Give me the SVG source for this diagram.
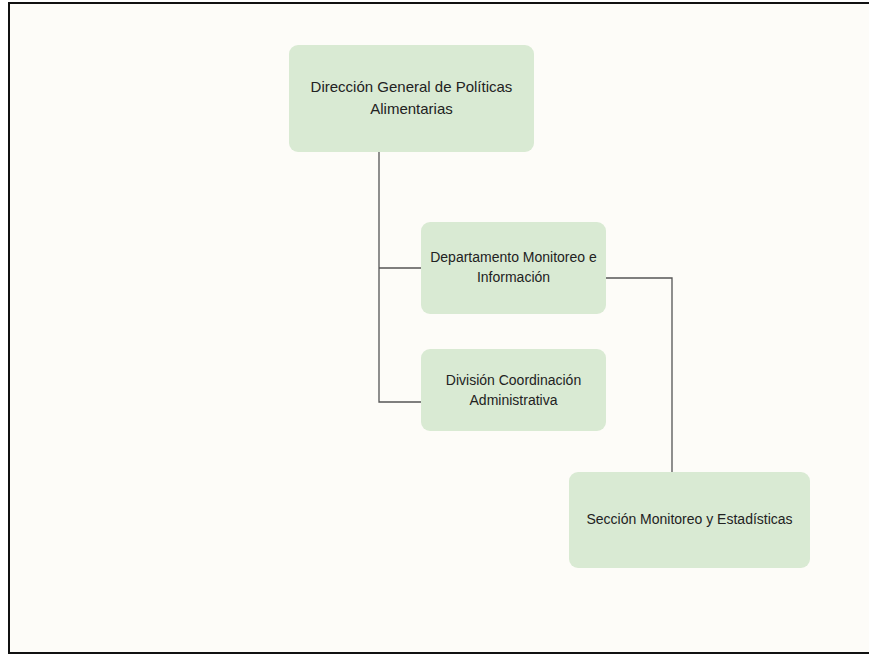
<svg xmlns="http://www.w3.org/2000/svg" width="869" height="655" viewBox="0 0 869 655">
<style>
.node rect{fill:#d9ead3;}
.node text{font-family:"Liberation Sans",Arial,sans-serif;fill:#222;text-anchor:middle;}
.conn path{fill:none;stroke:#555;stroke-width:1.3;}
</style>
<rect x="0" y="0" width="869" height="655" fill="#ffffff"/>
<rect x="9" y="3" width="880" height="650" fill="#fdfcf8" stroke="#111" stroke-width="2"/>
<g class="conn" id="connectors">
<path d="M379 152 V402 H421"/>
<path d="M379 268 H421"/>
<path d="M606 278 H672 V472"/>
</g>
<g class="node" id="n1">
<rect x="289" y="45" width="245" height="107" rx="9"/>
<text x="411.5" y="92" font-size="15">Dirección General de Políticas</text>
<text x="411.5" y="114" font-size="15">Alimentarias</text>
</g>
<g class="node" id="n2">
<rect x="421" y="222" width="185" height="92" rx="9"/>
<text x="513.5" y="262" font-size="14">Departamento Monitoreo e</text>
<text x="513.5" y="282" font-size="14">Información</text>
</g>
<g class="node" id="n3">
<rect x="421" y="349" width="185" height="82" rx="9"/>
<text x="513.5" y="385" font-size="14">División Coordinación</text>
<text x="513.5" y="405" font-size="14">Administrativa</text>
</g>
<g class="node" id="n4">
<rect x="569" y="472" width="241" height="96" rx="9"/>
<text x="689.5" y="524" font-size="14">Sección Monitoreo y Estadísticas</text>
</g>
</svg>
